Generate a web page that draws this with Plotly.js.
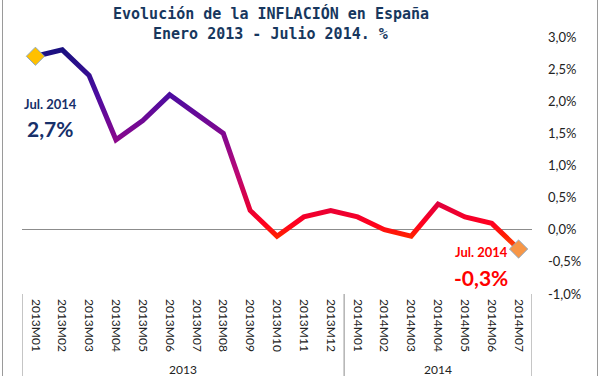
<!DOCTYPE html>
<html>
<head>
<meta charset="utf-8">
<script src="https://cdn.plot.ly/plotly-3.0.1.min.js"></script>
<style>
  html, body { margin: 0; padding: 0; background: #fff; }
  #wrap { position: relative; width: 601px; height: 376px; overflow: hidden; }
  #chart { width: 601px; height: 376px; }
  .frame { position: absolute; top: 0; width: 1px; height: 376px; background: #9a9a9a; }
</style>
</head>
<body>
<div id="wrap">
  <div id="chart"></div>
  <div class="frame" style="left:2px"></div>
  <div class="frame" style="left:597px"></div>
</div>
<script>
// ---- data ----
const periods = ["2013M01","2013M02","2013M03","2013M04","2013M05","2013M06","2013M07","2013M08","2013M09","2013M10","2013M11","2013M12",
                 "2014M01","2014M02","2014M03","2014M04","2014M05","2014M06","2014M07"];
const inflation = [2.7, 2.8, 2.4, 1.4, 1.7, 2.1, 1.8, 1.5, 0.3, -0.1, 0.2, 0.3,
                   0.2, 0.0, -0.1, 0.4, 0.2, 0.1, -0.3];
const years = ["2013", "2014"];
const yearCounts = [12, 7];
const yTicks = [-1, -0.5, 0, 0.5, 1, 1.5, 2, 2.5, 3];
const titleLines = ["Evolución de la INFLACIÓN en España", "Enero 2013 - Julio 2014. %"];
const leftLabel = "Jul. 2014";
const rightLabel = "Jul. 2014";

const first = 0, last = inflation.length - 1;
const fmt = v => v.toFixed(1).replace('.', ',') + '%';

const lineTrace = {
  x: periods, y: inflation, type: 'scatter', mode: 'lines',
  line: { color: '#800890', width: 5, shape: 'linear' },
  hoverinfo: 'skip', showlegend: false
};
const startMarker = {
  x: [periods[first]], y: [inflation[first]], type: 'scatter', mode: 'markers',
  marker: { symbol: 'diamond', size: 14, color: '#FFC000', line: { color: '#8EA9C1', width: 1 } },
  showlegend: false
};
const endMarker = {
  x: [periods[last]], y: [inflation[last]], type: 'scatter', mode: 'markers',
  marker: { symbol: 'diamond', size: 14, color: '#F79646', line: { color: '#8EA9C1', width: 1 } },
  showlegend: false
};

// year group dividers and labels (in category index units)
const shapes = [];
const yearAnn = [];
let start = -0.5;
shapes.push({ type: 'line', xref: 'x', yref: 'paper', x0: start, x1: start, y0: 0, y1: -0.5,
              line: { color: '#8c8c8c', width: 1 } });
years.forEach((yr, i) => {
  const end = start + yearCounts[i];
  shapes.push({ type: 'line', xref: 'x', yref: 'paper', x0: end, x1: end, y0: 0, y1: -0.5,
                line: { color: '#8c8c8c', width: 1 } });
  yearAnn.push({ text: yr, xref: 'x', yref: 'paper', x: (start + end) / 2, y: -0.255,
                 xanchor: 'center', yanchor: 'top', showarrow: false,
                 font: { family: 'Lato, "Open Sans", sans-serif', size: 12, color: '#222' } });
  start = end;
});

const navy = '#17306A';
const titleFont = { family: '"DejaVu Sans Mono", "Liberation Mono", monospace', size: 15, color: '#17375E' };
const annotations = [
  { text: '<b>' + titleLines[0] + '</b>', xref: 'paper', yref: 'paper', x: 0.488, y: 1.093,
    xanchor: 'center', yanchor: 'middle', showarrow: false, font: titleFont },
  { text: '<b>' + titleLines[1] + '</b>', xref: 'paper', yref: 'paper', x: 0.488, y: 1.010,
    xanchor: 'center', yanchor: 'middle', showarrow: false, font: titleFont },
  { text: '<b>' + leftLabel + '</b>', xref: 'x', yref: 'y', x: 0.55, y: 1.95, showarrow: false,
    xanchor: 'center', yanchor: 'middle', font: { family: 'Lato, "Open Sans", sans-serif', size: 13, color: navy } },
  { text: '<b>' + fmt(inflation[first]) + '</b>', xref: 'x', yref: 'y', x: 0.55, y: 1.58, showarrow: false,
    xanchor: 'center', yanchor: 'middle', font: { family: 'Lato, "Open Sans", sans-serif', size: 21, color: navy } },
  { text: '<b>' + rightLabel + '</b>', xref: 'x', yref: 'y', x: 16.6, y: -0.35, showarrow: false,
    xanchor: 'center', yanchor: 'middle', font: { family: 'Lato, "Open Sans", sans-serif', size: 13, color: '#FF0000' } },
  { text: '<b>' + fmt(inflation[last]) + '</b>', xref: 'x', yref: 'y', x: 16.6, y: -0.74, showarrow: false,
    xanchor: 'center', yanchor: 'middle', font: { family: 'Lato, "Open Sans", sans-serif', size: 21, color: '#FF0000' } }
].concat(yearAnn);

const layout = {
  width: 601, height: 376,
  margin: { l: 22, r: 69, t: 37, b: 82, pad: 0 },
  paper_bgcolor: '#ffffff', plot_bgcolor: '#ffffff',
  separators: ',.',
  xaxis: {
    type: 'category', range: [-0.5, inflation.length - 0.5],
    showgrid: false, zeroline: false, showline: false, ticks: '',
    tickangle: 90, ticklabelstandoff: 4,
    tickfont: { family: 'Lato, "Open Sans", sans-serif', size: 12, color: '#222' },
    fixedrange: true
  },
  yaxis: {
    side: 'right', range: [-1, 3], tickmode: 'array',
    tickvals: yTicks, ticktext: yTicks.map(fmt),
    showgrid: false, showline: false, ticks: '',
    zeroline: true, zerolinecolor: '#8c8c8c', zerolinewidth: 1,
    ticklabelstandoff: 15,
    tickfont: { family: 'Lato, "Open Sans", sans-serif', size: 13, color: '#222' },
    fixedrange: true
  },
  shapes: shapes,
  annotations: annotations,
  showlegend: false
};

Plotly.newPlot('chart', [lineTrace, startMarker, endMarker], layout, { staticPlot: true, displayModeBar: false })
.then(gd => {
  // apply a vertical colour gradient (by value) to the line, as in the original
  const svg = gd.querySelector('svg.main-svg');
  const ns = 'http://www.w3.org/2000/svg';
  let defs = svg.querySelector('defs');
  if (!defs) { defs = document.createElementNS(ns, 'defs'); svg.insertBefore(defs, svg.firstChild); }
  const ya = gd._fullLayout.yaxis;
  const grad = document.createElementNS(ns, 'linearGradient');
  grad.setAttribute('id', 'inflGrad');
  grad.setAttribute('gradientUnits', 'userSpaceOnUse');
  grad.setAttribute('x1', '0'); grad.setAttribute('x2', '0');
  const top = ya.l2p(2.8), bot = ya.l2p(-0.3);
  grad.setAttribute('y1', String(top)); grad.setAttribute('y2', String(bot));
  const stops = [[2.8, '#1A1080'], [2.1, '#4C0CA0'], [1.5, '#800890'], [0.9, '#B80878'],
                 [0.4, '#E0003C'], [0.1, '#FF0020'], [-0.1, '#FF2000'], [-0.3, '#FF5010']];
  stops.forEach(([v, c]) => {
    const s = document.createElementNS(ns, 'stop');
    s.setAttribute('offset', String((ya.l2p(v) - top) / (bot - top)));
    s.setAttribute('stop-color', c);
    grad.appendChild(s);
  });
  defs.appendChild(grad);
  const path = gd.querySelector('.scatterlayer .trace .js-line');
  if (path) {
    path.style.stroke = 'url(#inflGrad)';
    path.style.strokeLinejoin = 'miter';
  }
});
</script>
</body>
</html>
